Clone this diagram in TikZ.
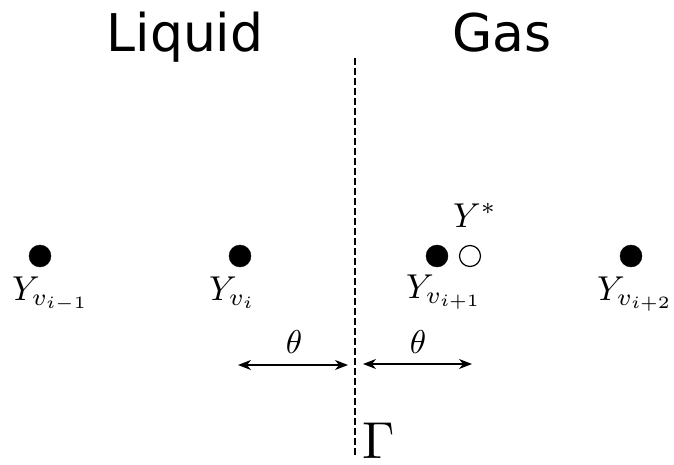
\documentclass[tikz,border=0pt]{standalone}
\usepackage{graphicx}
\usepackage{fontspec}
\newfontfamily\headfont{DejaVu Sans}
\usetikzlibrary{arrows.meta}
\newcommand{\ybig}[1]{\scalebox{3.45}{$#1$}}
\newcommand{\tbig}[1]{\scalebox{3.3}{$#1$}}
\newcommand{\gbig}[1]{\scalebox{5.2}{$#1$}}
\tikzset{
  dot/.style={circle,fill=black,draw=black,inner sep=0pt,minimum size=22pt},
  odot/.style={circle,fill=white,draw=black,line width=1.2pt,inner sep=0pt,minimum size=21pt},
  head/.style={font=\headfont\fontsize{52}{60}\selectfont,inner sep=0pt,anchor=base},
  ylab/.style={inner sep=0pt,anchor=base west},
  thlab/.style={inner sep=0pt,anchor=base},
  dim/.style={line width=1.3pt,{Stealth[length=13pt,width=10pt,inset=4pt]}-{Stealth[length=13pt,width=10pt,inset=4pt]}},
  iface/.style={line width=1.4pt,dash pattern=on 7pt off 3pt}
}
\begin{document}
\begin{tikzpicture}[x=1pt,y=-1pt]
\useasboundingbox (0,0) rectangle (674,465);
\node[head] (liq) at (185,52) {Liquid};
\node[head] (gas) at (502,52) {Gas};
\coordinate (gtop) at (355,58);
\coordinate (gbot) at (355,455);
\draw[iface] (gtop) -- (gbot);
\node[dot] (d1) at (40,256) {};
\node[dot] (d2) at (240,256) {};
\node[dot] (d3) at (437,256) {};
\node[odot] (d4) at (470,256) {};
\node[dot] (d5) at (631,256) {};
\node[ylab] (y1) at (12,300) {\ybig{Y_{v_{i-1}}}};
\node[ylab] (y2) at (209,300) {\ybig{Y_{v_i}}};
\node[ylab] (y3) at (406,298) {\ybig{Y_{v_{i+1}}}};
\node[ylab] (y5) at (597,300) {\ybig{Y_{v_{i+2}}}};
\node[ylab] (ys) at (453,227) {\ybig{Y^*}};
\coordinate (a1) at (238,365);
\coordinate (a2) at (348,365);
\coordinate (b1) at (363,364);
\coordinate (b2) at (472,364);
\draw[dim] (a1) -- (a2);
\draw[dim] (b1) -- (b2);
\node[thlab] (t1) at (294,353) {\tbig{\theta}};
\node[thlab] (t2) at (418,353) {\tbig{\theta}};
\node[ylab] (gam) at (362,458) {\gbig{\Gamma}};
\end{tikzpicture}
\end{document}
